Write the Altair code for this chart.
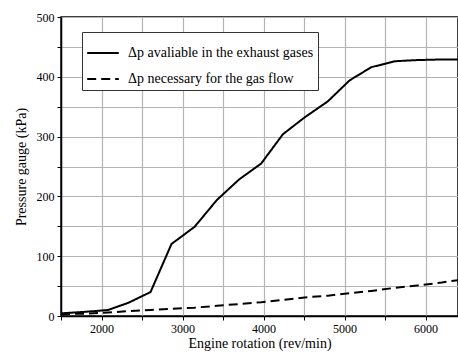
import altair as alt

rpm = [1500, 1800, 2080, 2330, 2605, 2864, 3148, 3424, 3695, 3971, 4239, 4506, 4794, 5062, 5329, 5617, 5900, 6200, 6400]
dp_avail = [4.5, 7, 10, 22, 40, 120.5, 149, 194, 228, 255, 304, 332, 359, 394, 416, 426, 428, 429, 429]
dp_need = [3, 4, 6, 8, 10, 12, 14, 17, 20, 23, 27, 31, 34, 38, 42, 47, 51, 56, 60]

s1 = "Δp avaliable in the exhaust gases"
s2 = "Δp necessary for the gas flow"

x_ticks = [1500, 2000, 2500, 3000, 3500, 4000, 4500, 5000, 5500, 6000]
y_ticks = [0, 50, 100, 150, 200, 250, 300, 350, 400, 450, 500]

FONT = "Liberation Serif"

data_rows = [{"rpm": r, "p": v, "series": s1} for r, v in zip(rpm, dp_avail)] + \
            [{"rpm": r, "p": v, "series": s2} for r, v in zip(rpm, dp_need)]

xscale = alt.Scale(domain=[1500, 6400], nice=False, zero=False)
yscale = alt.Scale(domain=[0, 500], nice=False)

xaxis = alt.Axis(values=x_ticks, title="Engine rotation (rev/min)",
                 labelExpr="datum.value % 1000 == 0 ? datum.value : ''",
                 grid=True, gridColor="#b4b4b4", gridWidth=1.2, gridOpacity=1,
                 domainColor="black", domainWidth=1.5,
                 tickColor="black", tickSize=4, tickWidth=1,
                 labelFont=FONT, labelFontSize=12, labelColor="black",
                 titleFont=FONT, titleFontSize=14, titleFontWeight="normal",
                 titleColor="black", titlePadding=2, labelPadding=3)
yaxis = alt.Axis(values=y_ticks, title="Pressure gauge (kPa)",
                 labelExpr="datum.value % 100 == 0 ? datum.value : ''",
                 grid=True, gridColor="#b4b4b4", gridWidth=1.2, gridOpacity=1,
                 domainColor="black", domainWidth=1.5,
                 tickColor="black", tickSize=4, tickWidth=1,
                 labelFont=FONT, labelFontSize=12, labelColor="black",
                 titleFont=FONT, titleFontSize=14, titleFontWeight="normal",
                 titleColor="black", titlePadding=8, labelPadding=3)

lines = alt.Chart(alt.Data(values=data_rows)).mark_line(color="black", strokeWidth=2, clip=True).encode(
    x=alt.X("rpm:Q", scale=xscale, axis=xaxis),
    y=alt.Y("p:Q", scale=yscale, axis=yaxis),
    strokeDash=alt.StrokeDash(
        "series:N",
        scale=alt.Scale(domain=[s1, s2], range=[[1, 0], [9, 5]]),
        legend=alt.Legend(title=None, orient="none", legendX=21, legendY=15,
                          symbolType="stroke", symbolStrokeColor="black",
                          symbolStrokeWidth=2, symbolSize=1000,
                          labelFont=FONT, labelFontSize=14, labelColor="black",
                          labelLimit=400,
                          strokeColor="#333333", padding=4, rowPadding=2,
                          labelOffset=8, fillColor="white"),
    ),
).properties(
    width=397, height=299,
    padding={"left": 61, "top": 17, "right": 0, "bottom": 40},
    autosize=alt.AutoSizeParams(type="none"),
    background="white",
)

chart = lines.configure_view(stroke="black", strokeWidth=1.5)

chart.save("out.html", embed_options={"renderer": "svg", "actions": False})
